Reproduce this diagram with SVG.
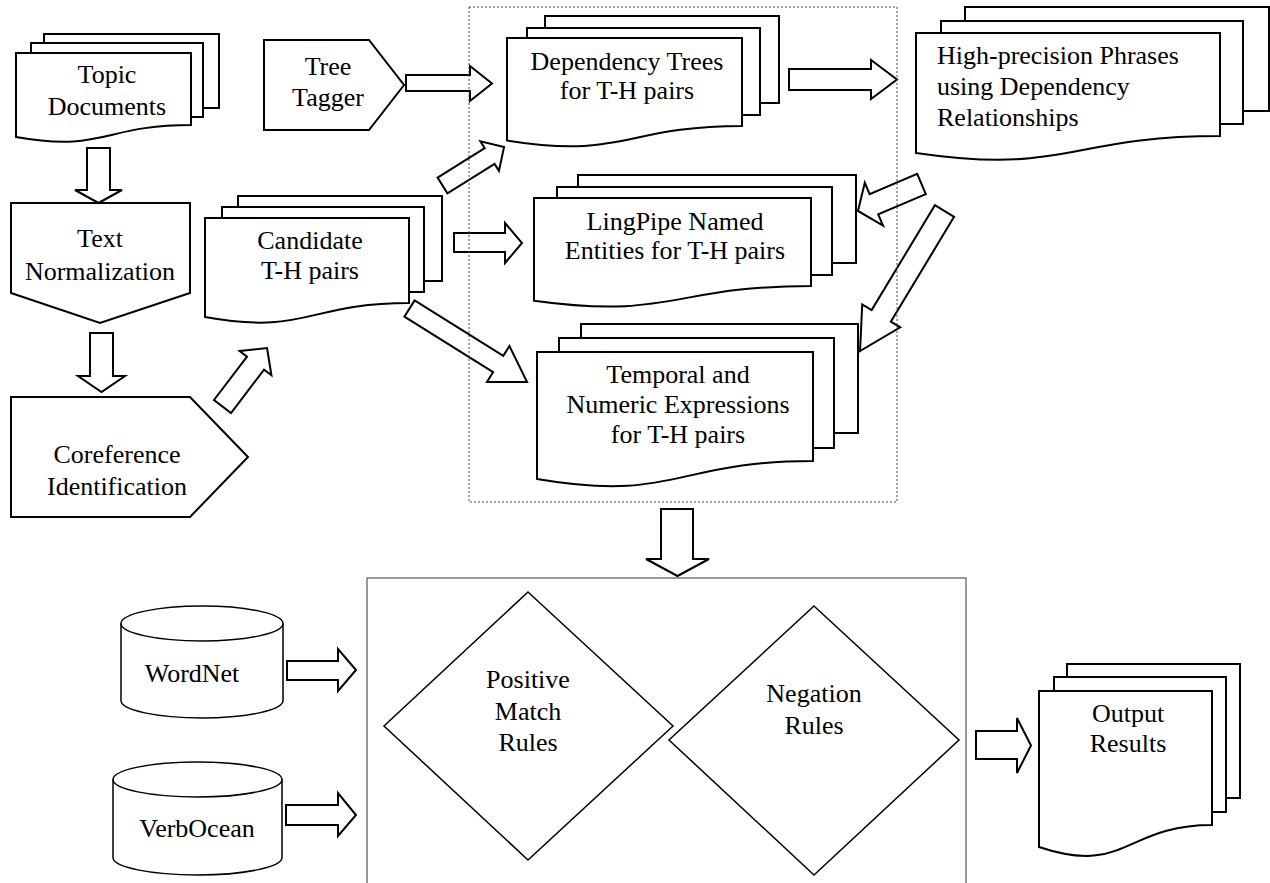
<svg xmlns="http://www.w3.org/2000/svg" width="1270" height="883" viewBox="0 0 1270 883">
<style>
.sh{fill:#fff;stroke:#000;stroke-width:2;stroke-linejoin:miter}
.th{fill:#fff;stroke:#000;stroke-width:1.5}
.ar{fill:#fff;stroke:#000;stroke-width:2;stroke-linejoin:miter}
.box{fill:#fff;stroke:#555;stroke-width:1.2}
.dash{fill:none;stroke:#444;stroke-width:1;stroke-dasharray:2,2}
text{font-family:"Liberation Serif","Times New Roman",serif;font-size:26px;fill:#000}
.c{text-anchor:middle}
</style>
<rect width="1270" height="883" fill="#fff"/>

<g id="rules-box"><rect class="box" x="367" y="578" width="599" height="320"/></g>

<g id="topic-documents">
<rect class="sh" x="44" y="34" width="175" height="74"/>
<rect class="sh" x="31" y="43" width="172" height="74"/>
<path class="sh" d="M16,53 H191 V125 C103.5,125 103.5,152.5 16,137 Z"/>
<text class="c" x="107" y="83">Topic</text>
<text class="c" x="107" y="115">Documents</text>
</g>

<g id="text-normalization">
<polygon class="sh" points="11,203 190,203 190,293 100,323 11,293"/>
<text class="c" x="100" y="247">Text</text>
<text class="c" x="100" y="280">Normalization</text>
</g>

<g id="coreference-identification">
<polygon class="sh" points="11,397 190,397 248,457 190,517 11,517"/>
<text class="c" x="117" y="463">Coreference</text>
<text class="c" x="117" y="495">Identification</text>
</g>

<g id="candidate-pairs">
<rect class="sh" x="238" y="196" width="204" height="85"/>
<rect class="sh" x="222" y="207" width="202" height="85"/>
<path class="sh" d="M205,218 H409 V303 C307,303 307,335.4 205,317 Z"/>
<text class="c" x="310" y="249">Candidate</text>
<text class="c" x="310" y="279">T-H pairs</text>
</g>

<g id="tree-tagger">
<polygon class="sh" points="264,40 369,40 404,85 369,130 264,130"/>
<text class="c" x="328" y="75">Tree</text>
<text class="c" x="328" y="106">Tagger</text>
</g>

<g id="dependency-trees">
<rect class="sh" x="545" y="16" width="234" height="87"/>
<rect class="sh" x="527" y="28" width="233" height="87"/>
<path class="sh" d="M507,38 H742 V126 C624.5,126 624.5,159.5 507,140.5 Z"/>
<text class="c" x="627" y="70">Dependency Trees</text>
<text class="c" x="627" y="99">for T-H pairs</text>
</g>

<g id="lingpipe-entities">
<rect class="sh" x="578" y="175" width="278" height="88"/>
<rect class="sh" x="557" y="187" width="275" height="88"/>
<path class="sh" d="M534,198 H811 V286 C672.5,286 672.5,319.8 534,300.7 Z"/>
<text class="c" x="675" y="230">LingPipe Named</text>
<text class="c" x="675" y="259">Entities for T-H pairs</text>
</g>

<g id="temporal-numeric">
<rect class="sh" x="581" y="324" width="277" height="109"/>
<rect class="sh" x="559" y="338" width="275" height="110"/>
<path class="sh" d="M537,352 H813 V461 C675,461 675,502.6 537,479 Z"/>
<text class="c" x="678" y="383">Temporal and</text>
<text class="c" x="678" y="413">Numeric Expressions</text>
<text class="c" x="678" y="443">for T-H pairs</text>
</g>

<g id="high-precision-phrases">
<rect class="sh" x="965" y="7" width="304" height="104"/>
<rect class="sh" x="941" y="21" width="302" height="103"/>
<path class="sh" d="M916,33 H1220 V136 C1068,136 1068,175.2 916,152.9 Z"/>
<text x="937" y="64">High-precision Phrases</text>
<text x="937" y="95">using Dependency</text>
<text x="937" y="126">Relationships</text>
</g>

<g id="wordnet">
<path class="th" d="M121,623.5 V700.5 A81,17.5 0 0 0 283,700.5 V623.5"/>
<ellipse class="th" cx="202" cy="623.5" rx="81" ry="17.5"/>
<text class="c" x="192" y="682">WordNet</text>
</g>

<g id="verbocean">
<path class="th" d="M113,779.5 V857.5 A84.5,17.5 0 0 0 282,857.5 V779.5"/>
<ellipse class="th" cx="197.5" cy="779.5" rx="84.5" ry="17.5"/>
<text class="c" x="197" y="837">VerbOcean</text>
</g>

<g id="positive-match-rules">
<polygon class="th" points="528,592 673,726 528,860 384,726"/>
<text class="c" x="528" y="688">Positive</text>
<text class="c" x="528" y="720">Match</text>
<text class="c" x="528" y="751">Rules</text>
</g>

<g id="negation-rules">
<polygon class="th" points="814,606 959,740 814,875 669,740"/>
<text class="c" x="814" y="702">Negation</text>
<text class="c" x="814" y="734">Rules</text>
</g>

<g id="output-results">
<rect class="sh" x="1067" y="664" width="173" height="134"/>
<rect class="sh" x="1054" y="677" width="172" height="135"/>
<path class="sh" d="M1039,691 H1212 V825 C1125.5,825 1125.5,876 1039,847 Z"/>
<text class="c" x="1128" y="722">Output</text>
<text class="c" x="1128" y="752">Results</text>
</g>

<g id="connectors">
<polygon class="ar" points="87,148 110,148 110,190 122,190 98.5,203 75,190 87,190"/>
<polygon class="ar" points="90,333 113,333 113,376 125,376 101.5,392 78,376 90,376"/>
<polygon class="ar" transform="translate(222.5,406.5) rotate(-52.7)" points="0,-10.7 54.5,-10.7 54.5,-20 73.5,0 54.5,20 54.5,10.7 0,10.7"/>
<polygon class="ar" points="406,75 470,75 470,66 492,83.5 470,101 470,91 406,91"/>
<polygon class="ar" transform="translate(442.5,185.5) rotate(-32)" points="0,-9.3 55.6,-9.3 55.6,-17.5 72.6,0 55.6,17.5 55.6,9.3 0,9.3"/>
<polygon class="ar" points="454,233 505,233 505,223 522,243 505,263 505,252 454,252"/>
<polygon class="ar" transform="translate(409.5,308.5) rotate(32)" points="0,-9.6 104.6,-9.6 104.6,-21.2 138.6,0 104.6,21.2 104.6,9.6 0,9.6"/>
<polygon class="ar" points="789,69 871,69 871,60 897,79.5 871,99 871,90 789,90"/>
<polygon class="ar" transform="translate(921.5,184) rotate(157)" points="0,-11 51.7,-11 51.7,-23.3 69,0 51.7,23.3 51.7,11 0,11"/>
<polygon class="ar" transform="translate(944.5,211) rotate(121.1)" points="0,-11.2 122.5,-11.2 122.5,-22.2 163.5,0 122.5,22.2 122.5,11.2 0,11.2"/>
<polygon class="ar" points="661,509 693,509 693,559 709,559 677.5,576 646,559 661,559"/>
<polygon class="ar" points="287,661 338,661 338,649 356,670 338,691 338,680 287,680"/>
<polygon class="ar" points="286,805 338,805 338,793 356,815 338,836 338,825 286,825"/>
<polygon class="ar" points="976,731 1017,731 1017,718 1031,745.5 1017,773 1017,759 976,759"/>
</g>

<g id="processing-group"><rect class="dash" x="469" y="7" width="428" height="495"/></g>
</svg>
